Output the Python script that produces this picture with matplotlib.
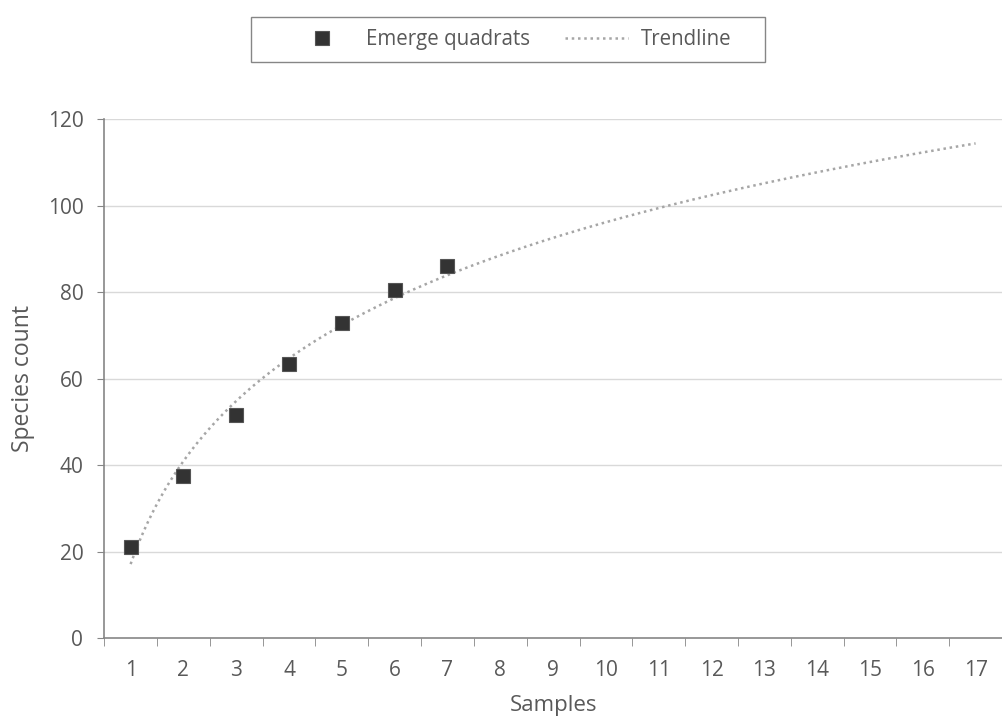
import numpy as np
import matplotlib.pyplot as plt
from matplotlib.patches import Rectangle
from matplotlib.ticker import FixedLocator, NullFormatter

# species accumulation data
samples = [1, 2, 3, 4, 5, 6, 7]
species = [21, 37.5, 51.5, 63.3, 72.8, 80.5, 86]
x_labels = [str(i) for i in range(1, 18)]
y_ticks = [0, 20, 40, 60, 80, 100, 120]

plt.rcParams['font.family'] = ['Open Sans', 'DejaVu Sans']
txt = '#595959'

# logarithmic trendline fitted to the points (like Excel)
a, b = np.polyfit(np.log(samples), species, 1)
xt = np.linspace(1, 17, 200)
yt = a * np.log(xt) + b

fig = plt.figure(figsize=(10.02, 7.22), dpi=100)
ax = fig.add_axes([0.104, 0.116, 0.896, 0.719])

for y in y_ticks[1:]:
    ax.axhline(y, color='#d9d9d9', lw=1, zorder=0)

tl, = ax.plot(xt, yt, ls=(0, (1, 1.5)), color='#a6a6a6', lw=1.8, zorder=2)
sc, = ax.plot(samples, species, 's', color='#333333', ms=10.5, mec='#555555', mew=0.8,
              ls='none', zorder=3)

ax.set_xlim(0.5, 17.5)
ax.set_ylim(0, 120)
ax.set_xticks(range(1, 18))
ax.set_xticklabels(x_labels)
ax.xaxis.set_minor_locator(FixedLocator(np.arange(0.5, 18, 1)))
ax.xaxis.set_minor_formatter(NullFormatter())
ax.tick_params(axis='x', which='major', length=0, pad=16, labelsize=15, labelcolor=txt)
ax.tick_params(axis='x', which='minor', length=6, color='#868686', direction='out')
ax.set_yticks(y_ticks)
ax.tick_params(axis='y', length=5, color='#868686', labelsize=15, labelcolor=txt, pad=10)

for s in ['top', 'right']:
    ax.spines[s].set_visible(False)
for s in ['left', 'bottom']:
    ax.spines[s].set_color('#868686')
    ax.spines[s].set_linewidth(1.2)

ax.set_xlabel('Samples', fontsize=16, color=txt, labelpad=10)
ax.set_ylabel('Species count', fontsize=16.5, color=txt, labelpad=9)

leg = fig.legend([sc, tl], ['Emerge quadrats', 'Trendline'], loc='center',
                 bbox_to_anchor=(0.510, 0.945), ncol=2, frameon=False,
                 fontsize=14.8, handlelength=3.06, columnspacing=1.7,
                 handletextpad=0.6, markerscale=0.9)
for t in leg.get_texts():
    t.set_color(txt)

# wide excel-style legend frame
fig.patches.append(Rectangle((251 / 1002, 1 - 62 / 722), 514 / 1002, 45 / 722,
                             transform=fig.transFigure, fill=False,
                             edgecolor='#868686', lw=1))

fig.savefig('out.png', dpi=100)
